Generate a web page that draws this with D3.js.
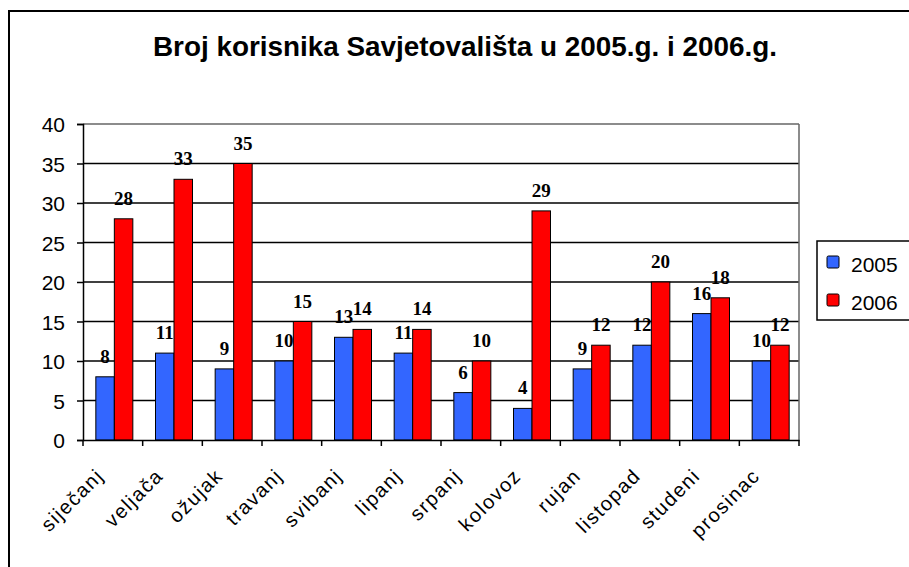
<!DOCTYPE html>
<html><head><meta charset="utf-8">
<script src="https://cdn.jsdelivr.net/npm/d3@7"></script>
<style>body{margin:0;background:#fff}svg{display:block}</style>
</head><body>
<script>
const months = ["siječanj","veljača","ožujak","travanj","svibanj","lipanj","srpanj","kolovoz","rujan","listopad","studeni","prosinac"];
const series = ["2005","2006"];
const values2005 = [8,11,9,10,13,11,6,4,9,12,16,10];
const values2006 = [28,33,35,15,14,14,10,29,12,20,18,12];
const yTicks = [0,5,10,15,20,25,30,35,40];
const colors = ["#3366FF","#FF0000"];
const title = "Broj korisnika Savjetovališta u 2005.g. i 2006.g.";

(function(){
const W = 909, H = 567;
const svg = d3.select("body").append("svg").attr("width", W).attr("height", H);

svg.append("rect").attr("x", 9).attr("y", 11).attr("width", 940).attr("height", 600)
  .attr("fill", "#fff").attr("stroke", "#000").attr("stroke-width", 2);

svg.append("text").attr("x", 153).attr("y", 56)
  .attr("textLength", 624).attr("lengthAdjust", "spacingAndGlyphs")
  .attr("font-family", "'Liberation Sans',Arial,sans-serif").attr("font-weight", "bold")
  .attr("font-size", 27).attr("fill", "#000").text(title);

const pL = 83, pR = 799, pT = 124, pB = 440;
const x = d3.scaleBand().domain(months).range([pL, pR]).padding(0);
const y = d3.scaleLinear().domain([0, 40]).range([pB, pT]);
const xs = d3.scaleBand().domain(series).range([0, 37]).padding(0);

// gridlines
svg.append("g").selectAll("line").data(yTicks.filter(d => d > 0)).join("line")
  .attr("x1", pL).attr("x2", pR).attr("y1", d => y(d)).attr("y2", d => y(d))
  .attr("stroke", d => d === 40 ? "#666" : "#000").attr("stroke-width", 1.5);
svg.append("line").attr("x1", pR).attr("x2", pR).attr("y1", pT).attr("y2", pB)
  .attr("stroke", "#666").attr("stroke-width", 1.5);

// bars
const data = months.map((m, i) => ({m, vals: [values2005[i], values2006[i]]}));
const g = svg.append("g");
const groups = g.selectAll("g").data(data).join("g")
  .attr("transform", d => `translate(${x(d.m) + (x.bandwidth() - 37) / 2 + 1.5},0)`);
groups.selectAll("rect").data(d => d.vals.map((v, k) => ({v, s: series[k], k}))).join("rect")
  .attr("x", d => xs(d.s)).attr("width", xs.bandwidth())
  .attr("y", d => y(d.v)).attr("height", d => y(0) - y(d.v))
  .attr("fill", d => colors[d.k]).attr("stroke", "#000").attr("stroke-width", 1);
groups.selectAll("text").data(d => d.vals.map((v, k) => ({v, s: series[k], k}))).join("text")
  .attr("x", d => xs(d.s) + xs.bandwidth() / 2).attr("y", d => y(d.v) - 14)
  .attr("text-anchor", "middle")
  .attr("font-family", "'Liberation Serif','Times New Roman',serif").attr("font-weight", "bold")
  .attr("font-size", 19).attr("fill", "#000").text(d => d.v);

// y axis
const yAxis = svg.append("g").attr("transform", `translate(${pL},0)`)
  .call(d3.axisLeft(y).tickValues(yTicks).tickSize(6).tickPadding(12));
yAxis.select(".domain").attr("stroke", "#000").attr("stroke-width", 1.5);
yAxis.selectAll(".tick line").attr("stroke", "#000").attr("stroke-width", 1.5);
yAxis.selectAll(".tick text").attr("font-family", "'Liberation Sans',Arial,sans-serif")
  .attr("font-size", 21).attr("fill", "#000").attr("dy", "0.36em");

// x axis
const xAxis = svg.append("g").attr("transform", `translate(0,${pB})`)
  .call(d3.axisBottom(x).tickSize(0).tickFormat(""));
xAxis.select(".domain").attr("stroke", "#000").attr("stroke-width", 1.5);
xAxis.selectAll(".tick").remove();
xAxis.selectAll("line.tk").data(months.concat(["__end"])).join("line").attr("class", "tk")
  .attr("x1", (d, i) => pL + i * x.step()).attr("x2", (d, i) => pL + i * x.step())
  .attr("y1", 0).attr("y2", 6).attr("stroke", "#000").attr("stroke-width", 1.5);

svg.append("g").selectAll("text").data(months).join("text")
  .attr("transform", d => `translate(${x(d) + x.bandwidth() / 2 - 8},${pB + 37}) rotate(-45)`)
  .attr("text-anchor", "end")
  .attr("font-family", "'Liberation Sans',Arial,sans-serif")
  .attr("letter-spacing", 1.5)
  .attr("font-size", 20).attr("fill", "#000").text(d => d);

// legend
const lg = svg.append("g");
lg.append("rect").attr("x", 817).attr("y", 241).attr("width", 120).attr("height", 79)
  .attr("fill", "#fff").attr("stroke", "#000").attr("stroke-width", 1.5);
const items = lg.selectAll("g").data(series).join("g")
  .attr("transform", (d, i) => `translate(827,${256 + i * 38})`);
items.append("rect").attr("width", 12).attr("height", 12).attr("rx", 1.5)
  .attr("fill", (d, i) => colors[i]).attr("stroke", "#000").attr("stroke-width", 1);
items.append("text").attr("x", 24).attr("y", 15.5)
  .attr("font-family", "'Liberation Sans',Arial,sans-serif").attr("font-size", 21)
  .attr("fill", "#000").text(d => d);
})();
</script>
</body></html>
